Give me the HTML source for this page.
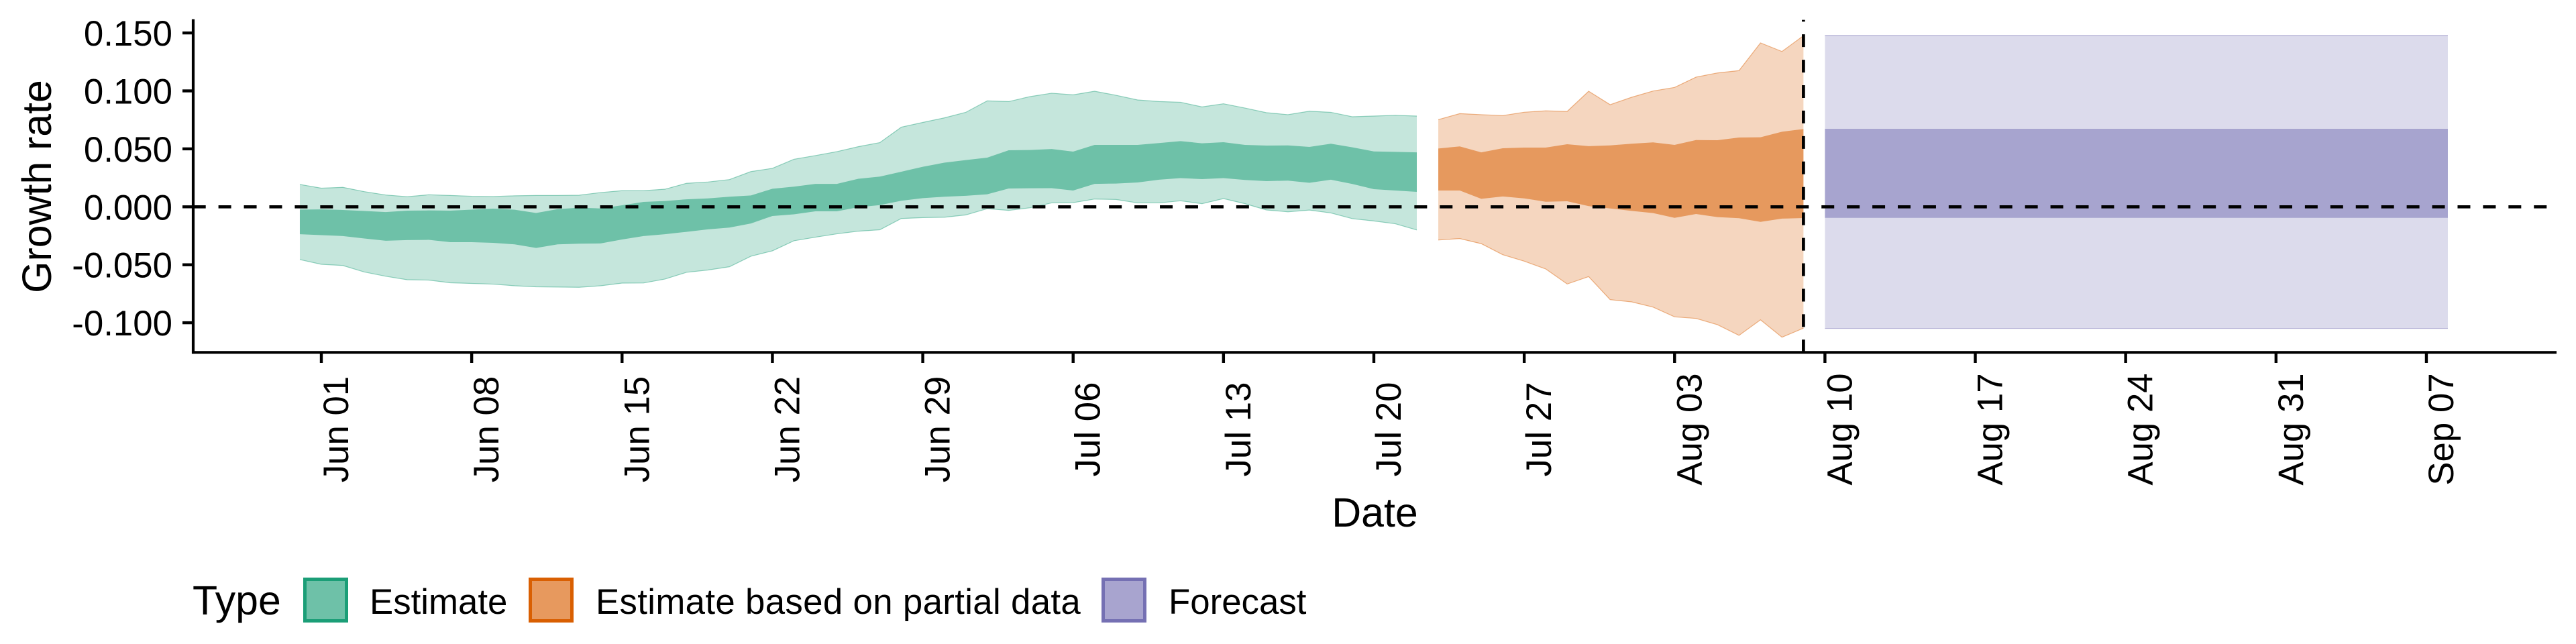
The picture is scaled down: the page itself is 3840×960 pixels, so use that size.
<!DOCTYPE html>
<html lang="en">
<head>
<meta charset="utf-8">
<title>Growth rate chart</title>
<style>
html,body{margin:0;padding:0;background:#fff;}
body{width:3840px;height:960px;overflow:hidden;}
svg{display:block;}
text{font-family:"Liberation Sans",Arimo,Helvetica,sans-serif;fill:#000;}
</style>
</head>
<body>
<svg id="chart" width="3840" height="960" viewBox="0 0 3840 960" xmlns="http://www.w3.org/2000/svg">
  <rect x="0" y="0" width="3840" height="960" fill="#ffffff"/>
  <g id="bands"></g>
  <g id="refs"></g>
  <g id="axes"></g>
  <text transform="translate(76,278) rotate(-90)" text-anchor="middle" font-size="60.8">Growth rate</text>
  <text x="2049.5" y="785" text-anchor="middle" font-size="60.8">Date</text>
  <g>
    <text x="287" y="916" font-size="60.8">Type</text>
    <g>
      <rect x="454.5" y="863.5" width="62" height="62" fill="#6ec1a8" stroke="#1b9e77" stroke-width="5"/>
      <text x="551" y="915" font-size="52.8">Estimate</text>
    </g>
    <g>
      <rect x="790.5" y="863.5" width="62" height="62" fill="#e7995e" stroke="#d95f02" stroke-width="5"/>
      <text x="888" y="915" font-size="52.8" letter-spacing="0.33">Estimate based on partial data</text>
    </g>
    <g>
      <rect x="1644.5" y="863.5" width="62" height="62" fill="#a8a4cf" stroke="#7570b3" stroke-width="5"/>
      <text x="1742" y="915" font-size="52.8">Forecast</text>
    </g>
  </g>
</svg>
<script>
// Axis data
const yTickValues = [0.15, 0.10, 0.05, 0, -0.05, -0.10];
const yTickLabels = ["0.150", "0.100", "0.050", "0.000", "-0.050", "-0.100"];
const xTickDays = [0, 7, 14, 21, 28, 35, 42, 49, 56, 63, 70, 77, 84, 91, 98];
const xTickLabels = ["Jun 01", "Jun 08", "Jun 15", "Jun 22", "Jun 29", "Jul 06", "Jul 13", "Jul 20", "Jul 27", "Aug 03", "Aug 10", "Aug 17", "Aug 24", "Aug 31", "Sep 07"];

// Days are counted from Jun 01; each series lists one value per day from its start day.
const estimateStartDay = -1;
const estimateUpper90 = [.0193,.0161,.0168,.0131,.0102,.0087,.0104,.0098,.0091,.0089,.0095,.0098,.0098,.0100,.0123,.0139,.0139,.0152,.0203,.0214,.0235,.0304,.0332,.0410,.0442,.0476,.0519,.0554,.0687,.0728,.0767,.0815,.0914,.0908,.0951,.0980,.0966,.0997,.0962,.0922,.0908,.0902,.0862,.0889,.0852,.0812,.0795,.0825,.0815,.0777,.0783,.0789,.0783];
const estimateUpper50 = [-.0024,-.0022,-.0027,-.0036,-.0045,-.0033,-.0031,-.0033,-.0024,-.0016,-.0025,-.0053,-.0020,-.0008,-.0014,.0013,.0042,.0050,.0065,.0073,.0087,.0098,.0156,.0174,.0198,.0198,.0242,.0261,.0303,.0345,.0381,.0403,.0424,.0488,.0490,.0499,.0476,.0534,.0534,.0534,.0550,.0567,.0548,.0557,.0534,.0528,.0530,.0517,.0544,.0513,.0478,.0474,.0470];
const estimateLower50 = [-.0236,-.0244,-.0252,-.0273,-.0293,-.0287,-.0285,-.0305,-.0305,-.0311,-.0324,-.0355,-.0324,-.0318,-.0316,-.0282,-.0252,-.0236,-.0216,-.0194,-.0179,-.0144,-.0079,-.0065,-.0039,-.0039,-.0003,.0015,.0052,.0075,.0087,.0095,.0108,.0158,.0160,.0161,.0141,.0198,.0201,.0210,.0234,.0248,.0239,.0248,.0232,.0222,.0226,.0207,.0234,.0197,.0152,.0141,.0129];
const estimateLower90 = [-.0455,-.0496,-.0506,-.0562,-.0599,-.0629,-.0632,-.0655,-.0661,-.0667,-.0681,-.0690,-.0692,-.0694,-.0681,-.0658,-.0657,-.0623,-.0565,-.0545,-.0517,-.0426,-.0380,-.0293,-.0262,-.0233,-.0210,-.0198,-.0101,-.0093,-.0090,-.0070,-.0016,-.0031,-.0008,.0034,.0036,.0067,.0063,.0034,.0034,.0052,.0027,.0071,.0027,-.0027,-.0043,-.0028,-.0053,-.0102,-.0122,-.0146,-.0200];

const partialStartDay = 52;
const partialUpper90 = [.0752,.0804,.0795,.0787,.0816,.0828,.0823,.0997,.0881,.0945,.0999,.1030,.1119,.1155,.1175,.1414,.1340,.1476];
const partialUpper50 = [.0503,.0521,.0470,.0505,.0511,.0511,.0540,.0523,.0530,.0544,.0556,.0534,.0576,.0575,.0598,.0600,.0648,.0671];
const partialLower50 = [.0141,.0141,.0069,.0089,.0073,.0044,.0048,.0006,-.0014,-.0035,-.0054,-.0095,-.0062,-.0089,-.0098,-.0130,-.0102,-.0097];
const partialLower90 = [-.0286,-.0274,-.0318,-.0413,-.0469,-.0536,-.0666,-.0602,-.0801,-.0820,-.0865,-.0949,-.0963,-.1017,-.1109,-.0975,-.1125,-.1047];

const forecastDays = [70, 99];
const forecastUpper90 = [.1479, .1479];
const forecastUpper50 = [.0673, .0673];
const forecastLower50 = [-.0095, -.0095];
const forecastLower90 = [-.1049, -.1049];

const zeroLineValue = 0;
const lastEstimateDay = 69;

// Axis functions
function xScale(day) { return 479 + 32.02 * day; }
function yScale(value) { return 308.3 - 1728 * value; }

const NS = 'http://www.w3.org/2000/svg';
const panelLeft = 288, panelRight = 3811, panelTop = 28.6, panelBottom = 525.3;

function make(tag, parent, attrs) {
  const el = document.createElementNS(NS, tag);
  for (const k in attrs) el.setAttribute(k, attrs[k]);
  parent.appendChild(el);
  return el;
}
function daysFrom(start, n) {
  const out = [];
  for (let i = 0; i < n; i++) out.push(start + i);
  return out;
}
function linePoints(days, vals) {
  return days.map((d, i) => xScale(d).toFixed(2) + ',' + yScale(vals[i]).toFixed(2)).join(' ');
}
function bandPoints(days, up, low) {
  const a = days.map((d, i) => xScale(d).toFixed(2) + ',' + yScale(up[i]).toFixed(2));
  const b = days.map((d, i) => xScale(d).toFixed(2) + ',' + yScale(low[i]).toFixed(2)).reverse();
  return a.concat(b).join(' ');
}

function drawSeries(name, color, days, u90, u50, l50, l90) {
  const bands = document.getElementById('bands');
  const g = make('g', bands, {});
  
  

  const outer = make('polygon', g, { points: bandPoints(days, u90, l90), fill: color, 'fill-opacity': .255, stroke: 'none' });
  
  

  const inner = make('polygon', g, { points: bandPoints(days, u50, l50), fill: color, 'fill-opacity': .515, stroke: 'none' });
  
  

  const top = make('polyline', g, { points: linePoints(days, u90), fill: 'none', stroke: color, 'stroke-opacity': .45, 'stroke-width': 1.2 });
  
  

  const bottom = make('polyline', g, { points: linePoints(days, l90), fill: 'none', stroke: color, 'stroke-opacity': .45, 'stroke-width': 1.2 });
  
  
}

drawSeries('estimate', '#1b9e77', daysFrom(estimateStartDay, estimateUpper90.length), estimateUpper90, estimateUpper50, estimateLower50, estimateLower90);
drawSeries('partial-estimate', '#d95f02', daysFrom(partialStartDay, partialUpper90.length), partialUpper90, partialUpper50, partialLower50, partialLower90);
drawSeries('forecast', '#7570b3', forecastDays, forecastUpper90, forecastUpper50, forecastLower50, forecastLower90);

// Reference lines
const refs = document.getElementById('refs');
const zeroLine = make('line', refs, { x1: panelLeft - 0.3, x2: panelRight, y1: yScale(zeroLineValue), y2: yScale(zeroLineValue), stroke: '#000', 'stroke-width': 4.7, 'stroke-dasharray': '19 18.93' });


const dateLine = make('line', refs, { x1: xScale(lastEstimateDay), x2: xScale(lastEstimateDay), y1: panelBottom, y2: panelTop + 1, stroke: '#000', 'stroke-width': 4.7, 'stroke-dasharray': '19 18.93' });



// Axes
const axes = document.getElementById('axes');
const yAxis = make('line', axes, { x1: panelLeft, x2: panelLeft, y1: panelTop, y2: panelBottom + 2, stroke: '#000', 'stroke-width': 4.2 });


const xAxis = make('line', axes, { x1: panelLeft - 2, x2: panelRight, y1: panelBottom, y2: panelBottom, stroke: '#000', 'stroke-width': 4.2 });



yTickValues.forEach(function (v, i) {
  const y = yScale(v);
  const tick = make('line', axes, { x1: 272, x2: panelLeft, y1: y, y2: y, stroke: '#000', 'stroke-width': 4.4 });
  
  
  const label = make('text', axes, { x: 257, y: y + 19, 'text-anchor': 'end', 'font-size': 52.8 });
  
  
  label.textContent = yTickLabels[i];
});

xTickDays.forEach(function (d, i) {
  const x = xScale(d);
  const tick = make('line', axes, { x1: x, x2: x, y1: panelBottom, y2: 541, stroke: '#000', 'stroke-width': 4.4 });
  
  
  const label = make('text', axes, { transform: 'translate(' + (x + 40).toFixed(2) + ',640) rotate(-90)', 'text-anchor': 'middle', 'font-size': 52.8 });
  
  
  label.textContent = xTickLabels[i];
});
</script>
</body>
</html>
